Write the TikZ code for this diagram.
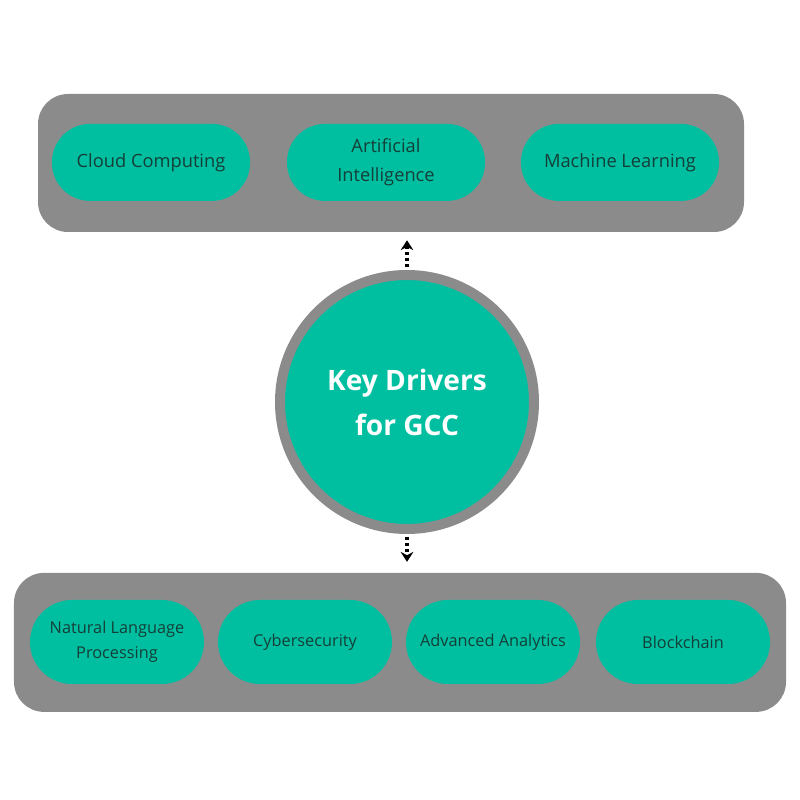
\documentclass[tikz,border=0pt]{standalone}
\usepackage{fontspec}
\setmainfont{Open Sans}
\usetikzlibrary{arrows.meta}

\definecolor{panelgray}{HTML}{8B8B8C}
\definecolor{driverteal}{HTML}{00BFA0}
\definecolor{labelink}{HTML}{143F38}

\tikzset{
    panel/.style={fill=panelgray, rounded corners=0.75cm, inner sep=0pt},
    pill/.style={fill=driverteal, rounded corners=0.95cm, inner sep=2pt,
        minimum width=4.95cm, minimum height=1.925cm,
        align=center, text=labelink, font=\fontsize{13}{21}\selectfont},
    smallpill/.style={pill, rounded corners=1.05cm, minimum width=4.35cm, minimum height=2.1cm,
        font=\fontsize{11.6}{18}\selectfont},
    link/.style={line width=2.2pt, dash pattern=on 2.2pt off 2.2pt,
        -{Stealth[length=7pt,width=9pt]}}
}

\begin{document}
\begin{tikzpicture}
        \useasboundingbox (0,0) rectangle (20,20);

        % Top row
        \node[panel, minimum width=17.65cm, minimum height=3.45cm] (topbar) at (9.775,15.925) {};
        \node[pill] (cloud) at (3.775,15.94) {Cloud Computing};
        \node[pill] (ai) at (9.65,15.94) {Artificial\\Intelligence};
        \node[pill] (ml) at (15.5,15.94) {Machine Learning};

        % Centre
        \node[circle, fill=driverteal, draw=panelgray, line width=0.25cm, minimum size=6.35cm,
            align=center, text=white, font=\fontsize{20}{32}\selectfont\bfseries] (core) at (10.175,9.95)
            {Key Drivers\\for GCC};

        % Bottom row
        \node[panel, minimum width=19.3cm, minimum height=3.475cm] (bottombar) at (10,3.94) {};
        \node[smallpill] (nlp) at (2.925,3.95) {Natural Language\\Processing};
        \node[smallpill] (cyber) at (7.625,3.95) {Cybersecurity};
        \node[smallpill] (analytics) at (12.325,3.95) {Advanced Analytics};
        \node[smallpill] (chain) at (17.075,3.95) {Blockchain};

        % Links
        \draw[link, shorten <=2pt, shorten >=0.2cm] (core.north) -- (core.north |- topbar.south);
        \draw[link, shorten <=2pt, shorten >=0.27cm] (core.south) -- (core.south |- bottombar.north);
    \end{tikzpicture}
\end{document}
